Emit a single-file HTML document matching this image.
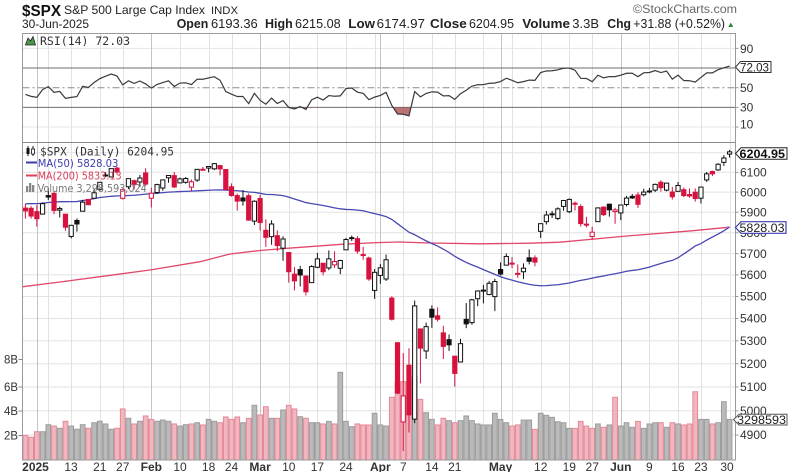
<!DOCTYPE html>
<html><head><meta charset="utf-8">
<style>
html,body{margin:0;padding:0;background:#fff;overflow:hidden;}
svg{display:block;}
text{font-family:"Liberation Sans",Arial,sans-serif;}
.m{font-family:"DejaVu Sans Mono","Liberation Mono",monospace;}
.d{font-family:"DejaVu Sans","Liberation Sans",sans-serif;}
</style></head><body>
<svg id="c" width="800" height="472" viewBox="0 0 800 472" xmlns="http://www.w3.org/2000/svg">
<defs>
<clipPath id="plot"><rect x="22.5" y="142.5" width="713" height="317.5"/></clipPath>
<clipPath id="rsip"><rect x="22.5" y="33.5" width="713" height="109"/></clipPath>
<clipPath id="rsilow"><rect x="22.5" y="107.36" width="713" height="35"/></clipPath>
<clipPath id="volbox"><rect x="730" y="410" width="57" height="20"/></clipPath>
</defs>
<rect x="0" y="0" width="800" height="472" fill="#fff"/>
<g id="grid"></g>
<g id="vol" clip-path="url(#plot)"></g>
<g id="ma" clip-path="url(#plot)"></g>
<g id="cdl" clip-path="url(#plot)"></g>
<g id="rsi" clip-path="url(#rsip)"></g>
<g id="frame" fill="none" stroke="#9a9a9a" stroke-width="1">
<rect x="22.5" y="33.5" width="713" height="426.5"/>
<line x1="22.5" y1="142.5" x2="735.5" y2="142.5" stroke="#888"/>
</g>

<!-- header -->
<text x="22" y="16" font-size="16" font-weight="bold" fill="#111" textLength="39" lengthAdjust="spacingAndGlyphs">$SPX</text>
<text x="64" y="14" font-size="12.2" fill="#222" textLength="141" lengthAdjust="spacingAndGlyphs">S&amp;P 500 Large Cap Index</text>
<text x="211" y="14" font-size="11" fill="#222" textLength="27" lengthAdjust="spacingAndGlyphs">INDX</text>
<text x="633" y="13" font-size="11.5" fill="#666" textLength="104" lengthAdjust="spacingAndGlyphs">©StockCharts.com</text>
<text x="22" y="28" font-size="12" fill="#222" textLength="67" lengthAdjust="spacingAndGlyphs">30-Jun-2025</text>
<g font-size="13" fill="#222">
<text x="176.7" y="28" font-weight="bold" textLength="31.6" lengthAdjust="spacingAndGlyphs">Open</text>
<text x="211" y="28" textLength="46.7" lengthAdjust="spacingAndGlyphs">6193.36</text>
<text x="265" y="28" font-weight="bold" textLength="27.7" lengthAdjust="spacingAndGlyphs">High</text>
<text x="295" y="28" textLength="45.7" lengthAdjust="spacingAndGlyphs">6215.08</text>
<text x="348.3" y="28" font-weight="bold" textLength="26.7" lengthAdjust="spacingAndGlyphs">Low</text>
<text x="376.7" y="28" textLength="48.3" lengthAdjust="spacingAndGlyphs">6174.97</text>
<text x="430" y="28" font-weight="bold" textLength="36.7" lengthAdjust="spacingAndGlyphs">Close</text>
<text x="469" y="28" textLength="45" lengthAdjust="spacingAndGlyphs">6204.95</text>
<text x="522.3" y="28" font-weight="bold" textLength="47.7" lengthAdjust="spacingAndGlyphs">Volume</text>
<text x="572.3" y="28" textLength="26.7" lengthAdjust="spacingAndGlyphs">3.3B</text>
<text x="607.3" y="28" font-weight="bold" textLength="23.7" lengthAdjust="spacingAndGlyphs">Chg</text>
<text x="633.3" y="28" textLength="91.7" lengthAdjust="spacingAndGlyphs">+31.88 (+0.52%)</text>
</g>
<polygon points="728.3,27 733.3,27 730.8,22.5" fill="#2a8a3a"/>

<!-- RSI legend -->
<polygon points="25.5,45 28,38 30.5,41 33,36.5 35.5,45" fill="#4a9a4a" stroke="#222" stroke-width="0.8"/>
<text x="40" y="45" class="m" font-size="11.5" fill="#333" textLength="90" lengthAdjust="spacingAndGlyphs">RSI(14) 72.03</text>

<!-- RSI axis labels -->
<g font-size="12" fill="#333">
<text x="740" y="53">90</text>
<text x="740" y="92">50</text>
<text x="740" y="111.5">30</text>
<text x="740" y="128.5">10</text>
</g>

<!-- Price axis labels -->
<g font-size="12" fill="#333">
<text x="740" y="176.5">6100</text>
<text x="740" y="196.3">6000</text>
<text x="740" y="216.5">5900</text>
<text x="740" y="237">5800</text>
<text x="740" y="257.8">5700</text>
<text x="740" y="279.1">5600</text>
<text x="740" y="300.7">5500</text>
<text x="740" y="322.7">5400</text>
<text x="740" y="345.1">5300</text>
<text x="740" y="367.9">5200</text>
<text x="740" y="391.2">5100</text>
<text x="740" y="415">5000</text>
<text x="740" y="439.2">4900</text>
</g>

<!-- Volume labels left -->
<g font-size="12" fill="#333">
<text x="4" y="363.3" textLength="14" lengthAdjust="spacingAndGlyphs">8B</text>
<text x="4" y="391" textLength="14" lengthAdjust="spacingAndGlyphs">6B</text>
<text x="4" y="415" textLength="14" lengthAdjust="spacingAndGlyphs">4B</text>
<text x="4" y="439.5" textLength="14" lengthAdjust="spacingAndGlyphs">2B</text>
</g>
<g stroke="#888" stroke-width="1">
<line x1="18.5" y1="359.5" x2="22.5" y2="359.5"/>
<line x1="18.5" y1="387" x2="22.5" y2="387"/>
<line x1="18.5" y1="411" x2="22.5" y2="411"/>
<line x1="18.5" y1="435.5" x2="22.5" y2="435.5"/>
</g>

<!-- Date labels -->
<g font-size="12" fill="#333" text-anchor="middle">
<text x="35.5" y="471" font-weight="bold">2025</text>
<text x="71" y="471">13</text>
<text x="99.8" y="471">21</text>
<text x="122.7" y="471">27</text>
<text x="151.3" y="471" font-weight="bold">Feb</text>
<text x="180" y="471">10</text>
<text x="208.6" y="471">18</text>
<text x="231.5" y="471">24</text>
<text x="260.1" y="471" font-weight="bold">Mar</text>
<text x="288.8" y="471">10</text>
<text x="317.4" y="471">17</text>
<text x="346" y="471">24</text>
<text x="380.3" y="471" font-weight="bold">Apr</text>
<text x="403.3" y="471">7</text>
<text x="431.9" y="471">14</text>
<text x="454.8" y="471">21</text>
<text x="500.6" y="471" font-weight="bold">May</text>
<text x="540.7" y="471">12</text>
<text x="569.3" y="471">19</text>
<text x="592.2" y="471">27</text>
<text x="620.8" y="471" font-weight="bold">Jun</text>
<text x="649.4" y="471">9</text>
<text x="678" y="471">16</text>
<text x="700.9" y="471">23</text>
<text x="727" y="471">30</text>
</g>

<!-- Main legend -->
<g>
<line x1="28" y1="146" x2="28" y2="156" stroke="#111" stroke-width="1"/>
<rect x="26.5" y="148" width="3" height="6" fill="#111"/>
<line x1="33" y1="146" x2="33" y2="156" stroke="#111" stroke-width="1"/>
<rect x="31.5" y="149" width="3" height="5" fill="#fff" stroke="#111" stroke-width="0.8"/>
<text x="40" y="155.5" class="m" font-size="11.5" fill="#333" textLength="134" lengthAdjust="spacingAndGlyphs">$SPX (Daily) 6204.95</text>
<line x1="26" y1="162.5" x2="37" y2="162.5" stroke="#3c3cb0" stroke-width="2"/>
<text x="37.7" y="167" class="d" font-size="10.5" fill="#3c3cb0" textLength="80.7" lengthAdjust="spacingAndGlyphs">MA(50) 5828.03</text>
<line x1="26" y1="175.5" x2="37" y2="175.5" stroke="#e0405a" stroke-width="2"/>
<text x="37.7" y="179.5" class="d" font-size="10.5" fill="#d83a55" textLength="84" lengthAdjust="spacingAndGlyphs">MA(200) 5833.13</text>
<rect x="26" y="186" width="2.3" height="6" fill="#888"/>
<rect x="29" y="183" width="2.3" height="9" fill="#888"/>
<rect x="32" y="185" width="2.3" height="7" fill="#888"/>
<text x="37.7" y="192" class="d" font-size="10.5" fill="#777" textLength="109" lengthAdjust="spacingAndGlyphs">Volume 3,298,593,024</text>
</g>

<!-- value boxes -->
<path d="M735.5,67 L740.5,61.5 L771,61.5 L771,72.5 L740.5,72.5 Z" fill="#fff" stroke="#333" stroke-width="1"/>
<text x="740" y="71.5" font-size="12" fill="#222" textLength="29" lengthAdjust="spacingAndGlyphs">72.03</text>
<path d="M735.5,153.5 L741,147.8 L787,147.8 L787,159.2 L741,159.2 Z" fill="#fff" stroke="#222" stroke-width="1"/>
<text x="739.5" y="158" font-size="12" font-weight="bold" fill="#111" textLength="45.5" lengthAdjust="spacingAndGlyphs">6204.95</text>
<path d="M735.5,227.5 L741,221.7 L786,221.7 L786,233.3 L741,233.3 Z" fill="#fff" stroke="#3c3cb0" stroke-width="1.2"/>
<text x="739.5" y="232" font-size="12" fill="#222" textLength="45" lengthAdjust="spacingAndGlyphs">5828.03</text>
<path d="M733.5,419.6 L739,414.3 L787,414.3 L787,425 L739,425 Z" fill="#fff" stroke="#555" stroke-width="1"/>
<text x="737" y="424" font-size="12" fill="#222" textLength="49" lengthAdjust="spacingAndGlyphs" clip-path="url(#volbox)">3298593</text>
</svg>

<script>
(function(){
var NS="http://www.w3.org/2000/svg";
function el(tag,a,p){var e=document.createElementNS(NS,tag);for(var k in a)e.setAttribute(k,a[k]);p.appendChild(e);return e;}
function X(i){return 25.4+5.725*i;}
function Y(v){return 172.3+1199.3*Math.log(6100/v);}
function R(r){return 87.7-(r-50)*0.983;}
var pre=[5708.75,5709.54,5699.94,5751.07,5695.94,5751.13,5792.04,5780.05,5815.03,5859.85,5815.26,5842.47,5841.47,5864.67,5853.98,5851.20,5797.42,5809.86,5808.12,5823.52,5832.92,5813.67,5705.45,
5728.80,5712.69,5782.76,5929.04,5973.10,5995.54,6001.35,5983.99,5985.38,5949.17,5870.62,5893.62,5916.98,5917.11,5948.71,5969.34,5987.37,6021.63,5998.74,6032.38,
6047.15,6049.88,6086.49,6075.11,6090.27,6052.85,6034.91,6084.19,6051.25,6051.09,6074.08,6050.61,5872.16,5867.08,5930.85,5974.07,6040.04,6037.59,5970.84];
var D=[
[5920.67,5940.79,5869.16,5906.94,2.0],[5919.74,5929.74,5868.86,5881.63,1.85],[5903.26,5935.09,5829.53,5868.55,2.3],[5891.07,5949.34,5888.66,5942.47,2.3],
[5982.81,6021.04,5960.01,5975.38,2.87],[5993.26,6000.68,5890.68,5909.03,2.76],[5910.66,5927.89,5874.78,5918.25,2.58],[5890.66,5890.66,5809.81,5827.04,3.15],
[5782.32,5838.34,5773.31,5836.22,2.76],[5859.76,5870.00,5805.48,5842.91,2.5],[5905.21,5960.61,5905.21,5949.91,2.87],[5963.61,5964.69,5934.12,5937.34,2.58],
[5969.50,6014.96,5969.50,5996.66,3.03],[6014.12,6051.51,6006.88,6049.24,3.15],[6081.39,6100.81,6076.63,6086.37,2.93],[6076.32,6118.73,6074.67,6118.71,2.5],
[6121.43,6128.18,6088.74,6101.24,2.58],[5969.04,6017.17,5962.92,6012.28,4.15],[6026.97,6069.15,6015.23,6067.70,3.39],[6057.70,6062.83,6012.96,6039.31,2.93],
[6050.75,6086.64,6027.46,6071.17,3.15],[6096.79,6120.91,6030.93,6040.53,3.58],[5969.65,6022.13,5923.93,5994.57,3.3],[5998.14,6042.48,5990.87,6037.88,3.15],
[6020.45,6062.86,6007.06,6061.48,3.25],[6072.22,6084.03,6046.83,6083.57,3.15],[6083.13,6101.28,6019.96,6025.99,2.93],[6046.40,6073.38,6044.84,6066.44,2.76],
[6049.32,6076.28,6042.34,6068.50,2.87],[6025.08,6063.63,6003.00,6051.97,2.93],[6060.59,6116.91,6050.95,6115.07,3.03],[6115.52,6127.47,6107.62,6114.63,2.85],
[6121.60,6129.63,6099.51,6129.58,3.3],[6117.76,6147.43,6111.15,6144.15,3.15],[6134.50,6134.50,6084.59,6117.52,3.03],[6114.10,6114.82,6008.56,6013.13,3.5],
[6026.69,6043.65,5977.83,5983.25,3.3],[5982.73,5992.65,5908.49,5955.25,3.5],[5970.87,6009.82,5932.69,5956.06,3.03],[5981.88,5993.69,5858.78,5861.57,3.39],
[5856.74,5959.40,5837.66,5954.50,4.45],[5968.33,5986.09,5810.91,5849.72,3.66],[5811.98,5865.08,5732.59,5778.15,4.33],[5781.41,5860.59,5742.35,5842.63,3.39],
[5785.87,5812.08,5711.64,5738.52,3.39],[5726.01,5783.01,5666.29,5770.20,4.07],[5705.37,5705.37,5564.02,5614.56,4.45],[5603.65,5636.30,5528.41,5572.07,4.15],
[5624.84,5642.19,5546.09,5599.30,3.52],[5594.45,5597.78,5504.65,5521.52,3.39],[5563.85,5645.27,5563.85,5638.94,3.03],[5635.60,5703.52,5631.12,5675.12,3.03],
[5654.53,5654.53,5597.76,5614.66,2.93],[5632.37,5715.33,5622.20,5675.29,3.14],[5646.92,5711.15,5632.33,5662.89,2.93],[5630.73,5670.84,5603.10,5667.56,7.13],
[5718.08,5775.14,5718.08,5767.57,3.14],[5775.96,5786.95,5760.70,5776.65,2.71],[5771.66,5784.10,5699.82,5712.20,2.93],[5695.64,5732.28,5670.94,5693.31,2.85],
[5679.07,5685.89,5572.42,5580.94,2.85],[5527.91,5627.56,5488.73,5611.85,3.8],[5597.53,5650.57,5558.52,5633.07,2.85],[5580.76,5695.31,5571.48,5670.97,2.76],
[5492.74,5500.41,5390.83,5396.52,5.1],[5292.14,5292.14,5069.90,5074.08,6.34],[4953.79,5246.68,4835.04,5062.25,6.37],[5193.57,5267.47,4910.42,4982.77,6.37],
[4965.28,5481.34,4948.43,5456.90,6.78],[5353.15,5353.15,5115.27,5268.05,4.93],[5255.56,5381.46,5220.77,5363.36,3.85],[5441.96,5459.46,5358.02,5405.97,3.3],
[5411.99,5450.41,5386.44,5396.63,2.85],[5335.75,5367.24,5220.79,5275.70,3.39],[5305.45,5328.31,5255.58,5282.70,3.2],[5232.94,5232.94,5101.63,5158.20,3.03],
[5207.67,5309.60,5207.67,5287.76,3.2],[5395.92,5469.69,5356.56,5375.86,3.58],[5381.38,5489.40,5371.96,5484.77,3.2],[5489.73,5528.11,5455.86,5525.21,2.93],
[5529.22,5553.66,5468.64,5528.75,2.85],[5508.87,5571.95,5505.70,5560.83,2.85],[5499.44,5581.84,5433.24,5569.06,3.8],[5625.14,5658.91,5597.35,5604.14,3.3],
[5645.62,5700.69,5645.62,5686.67,3.03],[5655.32,5683.49,5631.89,5650.38,2.76],[5605.88,5649.28,5586.28,5606.91,2.85],[5614.60,5654.09,5580.38,5631.28,3.25],
[5680.03,5720.10,5649.06,5663.94,3.25],[5679.86,5691.68,5640.28,5659.91,2.49],[5807.07,5844.19,5775.16,5844.19,3.8],[5854.00,5906.63,5840.22,5886.55,3.63],
[5891.74,5906.86,5871.89,5892.58,3.47],[5869.72,5924.53,5861.43,5916.93,3.11],[5929.09,5958.62,5907.36,5958.38,3.03],[5902.88,5968.61,5895.69,5963.60,2.57],
[5944.66,5953.06,5909.26,5940.46,2.57],[5928.13,5939.78,5830.04,5844.61,3.14],[5841.26,5878.08,5825.82,5842.01,2.76],[5781.89,5829.51,5767.41,5802.82,2.57],
[5854.07,5924.33,5854.07,5921.54,2.93],[5925.54,5929.00,5881.25,5888.55,2.66],[5939.92,5943.13,5878.52,5912.17,2.85],[5903.67,5922.14,5843.66,5911.69,5.1],
[5896.68,5937.40,5861.43,5935.94,2.76],[5938.56,5981.35,5929.00,5970.37,3.03],[5978.94,5990.48,5966.11,5970.81,2.66],[5985.67,5999.70,5921.20,5939.30,3.14],
[5987.06,6016.87,5978.63,6000.36,2.57],[6004.60,6021.31,5994.18,6005.88,2.93],[6009.91,6043.01,6000.25,6038.81,3.03],[6049.38,6059.40,6002.32,6022.24,3.03],
[6009.90,6045.43,6003.88,6045.26,2.66],[6000.56,6026.16,5963.21,5976.97,3.03],[6004.00,6050.83,6004.00,6033.11,2.93],[6012.15,6023.25,5974.80,5982.72,2.85],
[5987.93,6018.25,5971.89,5980.87,2.93],[5999.67,6018.20,5952.56,5967.84,5.55],[5969.67,6028.61,5943.23,6025.17,3.3],[6061.21,6101.75,6051.21,6092.18,3.3],
[6104.04,6108.51,6080.57,6092.16,2.93],[6112.10,6146.52,6107.28,6141.02,3.03],[6150.70,6187.68,6132.35,6173.07,4.74],[6193.36,6215.08,6174.97,6204.95,3.3]
];
var N=D.length, P=pre.length;
var all=pre.concat(D.map(function(d){return d[3];}));
var i,k,v,y,x,d,prev;

/* grid */
var g=document.getElementById('grid');
[90,10].forEach(function(r){var yy=R(r);el('line',{x1:22.5,y1:yy,x2:735.5,y2:yy,stroke:'#e4e4e4','stroke-width':1},g);});
for(v=4900;v<=6200;v+=100){y=Y(v);el('line',{x1:22.5,y1:y,x2:735.5,y2:y,stroke:'#e2e2e2','stroke-width':1},g);}
var weeks=[4,8,13,17,22,27,32,36,41,46,51,56,61,66,71,75,80,85,90,95,99,104,109,114,118,123];
var months=[2,22,41,62,83,104];
weeks.forEach(function(j){var xx=Math.round(X(j))+0.5;el('line',{x1:xx,y1:33.5,x2:xx,y2:460,stroke:'#e2e2e2','stroke-width':1},g);});
months.forEach(function(j){var xx=Math.round(X(j))+0.5;el('line',{x1:xx,y1:33.5,x2:xx,y2:460,stroke:'#c4c4c4','stroke-width':1},g);});
el('line',{x1:22.5,y1:R(70),x2:735.5,y2:R(70),stroke:'#6e6e6e','stroke-width':1},g);
el('line',{x1:22.5,y1:R(30),x2:735.5,y2:R(30),stroke:'#6e6e6e','stroke-width':1},g);
el('line',{x1:22.5,y1:R(50),x2:735.5,y2:R(50),stroke:'#8a8a8a','stroke-width':1,'stroke-dasharray':'7,3,2,3'},g);
for(v=4900;v<=6200;v+=100){y=Y(v);el('line',{x1:735.5,y1:y,x2:738.5,y2:y,stroke:'#999','stroke-width':1},g);}
[90,70,50,30,10].forEach(function(r){el('line',{x1:735.5,y1:R(r),x2:738.5,y2:R(r),stroke:'#999','stroke-width':1},g);});

/* volume */
var vg=document.getElementById('vol');
for(i=0;i<N;i++){
  prev=(i==0?pre[P-1]:D[i-1][3]);
  var up=D[i][3]>=prev;
  var h=D[i][4]*12.3;
  el('rect',{x:X(i)-2.36,y:460-h,width:4.72,height:h,fill:up?'#bababa':'#f1b6be',stroke:up?'#9c9c9c':'#e2899a','stroke-width':1},vg);
}

/* MAs */
var mg=document.getElementById('ma');
var pts200=[[23,286.7],[60,282],[100,276.7],[150,270],[200,261.7],[230,254],[260,250.5],[287,248.3],[343,244.2],[380,242.5],[400,242],[430,243],[480,243.8],[530,243.2],[560,242.2],[627,236],[693,230.7],[729.6,227.2]];
el('polyline',{points:pts200.map(function(p){return p.join(',');}).join(' '),fill:'none',stroke:'#e2486a','stroke-width':1.3},mg);
var p50=[];
for(i=0;i<N;i++){var s=0;for(k=P+i-49;k<=P+i;k++)s+=all[k];p50.push(X(i).toFixed(2)+','+Y(s/50).toFixed(2));}
el('polyline',{points:p50.join(' '),fill:'none',stroke:'#4848b4','stroke-width':1.3},mg);

/* candles */
var cg=document.getElementById('cdl');
var RED='#d8123f',BLK='#111';
for(i=0;i<N;i++){
  d=D[i];prev=(i==0?pre[P-1]:D[i-1][3]);
  var col=d[3]>=prev?BLK:RED;
  x=X(i);
  el('line',{x1:x,y1:Y(d[1]),x2:x,y2:Y(d[2]),stroke:col,'stroke-width':1},cg);
  var top=Y(Math.max(d[0],d[3])),bot=Y(Math.min(d[0],d[3]));
  var bh=Math.max(bot-top,1);
  if(d[3]>d[0]){
    el('rect',{x:x-2.1,y:top,width:4.2,height:bh,fill:'#fff',stroke:col,'stroke-width':1},cg);
  }else{
    el('rect',{x:x-2.6,y:top-0.5,width:5.2,height:bh+1,fill:col},cg);
  }
}

/* RSI */
var ag=0,al=0,ch;
for(k=1;k<=14;k++){ch=all[k]-all[k-1];if(ch>0)ag+=ch;else al-=ch;}
ag/=14;al/=14;var rs=[];
for(k=15;k<all.length;k++){ch=all[k]-all[k-1];ag=(ag*13+(ch>0?ch:0))/14;al=(al*13+(ch<0?-ch:0))/14;rs[k]=100-100/(1+ag/al);}
var rg=document.getElementById('rsi');
var rp=[];
for(i=0;i<N;i++){rp.push(X(i).toFixed(2)+','+R(rs[P+i]).toFixed(2));}
var y30=R(30);
var fillPts=rp.join(' ')+' '+X(N-1).toFixed(2)+','+y30+' '+X(0).toFixed(2)+','+y30;
var fg=el('g',{'clip-path':'url(#rsilow)'},rg);
el('polygon',{points:fillPts,fill:'#b05a5a','fill-opacity':0.85},fg);
el('polyline',{points:rp.join(' '),fill:'none',stroke:'#3a3a3a','stroke-width':1.2},rg);
})();
</script>
</body></html>
